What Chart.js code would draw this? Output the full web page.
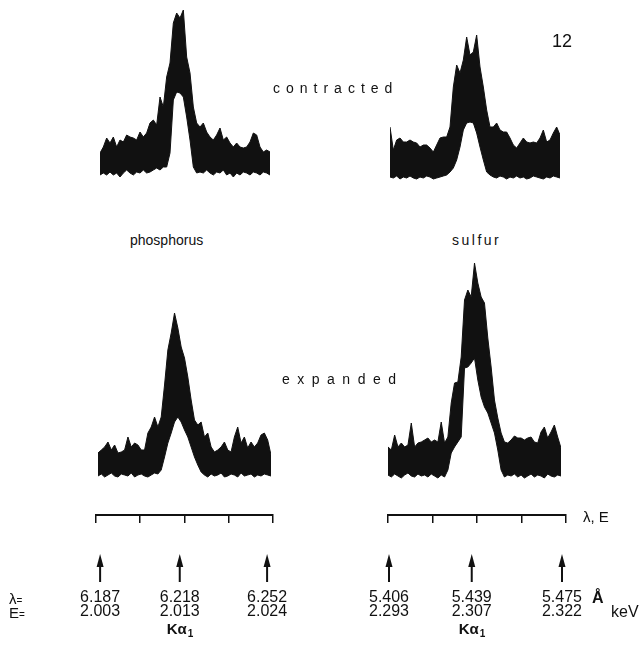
<!DOCTYPE html>
<html>
<head>
<meta charset="utf-8">
<script src="https://cdn.jsdelivr.net/npm/chart.js@4.4.0/dist/chart.umd.min.js"></script>
<style>
  body { margin: 0; background: #fff; }
  #fig { position: relative; width: 643px; height: 651px; overflow: hidden; font-family: "Liberation Sans", Arial, sans-serif; color: #111; }
  #fig canvas { position: absolute; }
  .lbl { position: absolute; white-space: nowrap; line-height: 1; }
</style>
</head>
<body>
<div id="fig">
  <canvas id="pCon" width="170" height="180" style="left:100px;top:0px"></canvas>
  <canvas id="sCon" width="170" height="160" style="left:390px;top:20px"></canvas>
  <canvas id="pExp" width="173" height="180" style="left:98px;top:300px"></canvas>
  <canvas id="sExp" width="173" height="230" style="left:388px;top:250px"></canvas>
  <canvas id="pAxis" width="320" height="171" style="left:0px;top:480px"></canvas>
  <canvas id="sAxis" width="323" height="171" style="left:320px;top:480px"></canvas>

  <div class="lbl" style="left:552px;top:32px;font-size:18px">12</div>
  <div class="lbl" style="left:273px;top:81px;font-size:14px;letter-spacing:6px">contracted</div>
  <div class="lbl" style="left:130px;top:233px;font-size:14px">phosphorus</div>
  <div class="lbl" style="left:452px;top:233px;font-size:14px;letter-spacing:2.5px">sulfur</div>
  <div class="lbl" style="left:282px;top:372px;font-size:14px;letter-spacing:7.5px">expanded</div>
  <div class="lbl" style="left:583px;top:509px;font-size:15px">λ, E</div>
  <div class="lbl" style="left:9px;top:591px;font-size:15px">λ<span style="font-size:10px">=</span></div>
  <div class="lbl" style="left:9px;top:605px;font-size:15px">E<span style="font-size:10px">=</span></div>
  <div class="lbl" style="left:592px;top:590px;font-size:16px;font-weight:bold">Å</div>
  <div class="lbl" style="left:611px;top:604px;font-size:16px">keV</div>
</div>

<script>
// spectra: upper and lower edge of the recorded trace, counts per channel
const pConUpper = [27,33,42,37,43,33,40,38,45,43,42,40,48,43,47,57,60,55,83,73,103,117,157,167,162,170,123,107,73,57,53,57,48,43,40,45,52,40,43,37,33,37,33,32,33,38,47,45,33,28,30,28];
const pConLower = [5,7,5,8,5,7,3,7,10,7,5,8,7,10,7,8,10,12,10,13,13,27,80,88,87,83,63,40,13,7,8,7,10,7,5,8,7,10,5,7,3,7,5,8,7,5,8,7,5,8,7,5];

const sConUpper = [53,30,40,42,38,38,40,38,37,33,35,35,32,28,35,42,43,43,53,93,115,107,120,143,125,128,145,113,93,70,53,53,57,50,48,48,42,35,32,37,42,38,37,38,37,42,50,38,40,47,53,45];
const sConLower = [3,2,4,1,3,2,4,2,1,3,2,4,3,1,2,3,4,5,8,12,20,33,50,57,58,57,47,33,20,8,5,3,2,4,3,1,3,2,4,2,3,1,2,4,3,2,1,3,2,4,3,2];

const pExpUpper = [27,30,33,38,30,35,27,28,30,43,33,37,35,30,30,47,53,63,53,63,95,130,147,167,152,133,122,103,80,60,55,58,43,47,33,28,30,33,38,30,28,43,53,37,43,32,38,33,37,45,47,40,25];
const pExpLower = [4,6,3,5,7,4,3,6,5,4,7,3,5,6,4,3,5,7,6,10,23,37,47,58,63,58,50,43,33,23,15,8,5,3,6,4,5,7,3,4,6,5,3,7,4,5,6,3,5,4,6,5,4];

const sExpUpper = [33,30,45,33,37,33,35,57,33,37,38,40,42,38,40,38,58,37,43,77,97,98,123,180,190,183,217,197,183,177,142,113,80,62,47,38,37,40,44,42,42,40,42,43,38,37,48,53,42,48,55,43,32];
const sExpLower = [5,3,6,4,2,5,7,4,3,6,4,5,3,6,4,2,5,3,10,27,33,38,43,112,113,117,122,100,83,73,67,57,47,30,10,3,5,4,6,3,5,2,4,6,3,5,4,2,6,4,3,5,4];

// scale bars (Å) and marked lines
const pBarTicks = [6.1854, 6.2026, 6.2198, 6.2371, 6.2543];
const pWave = [6.187, 6.218, 6.252];
const pWaveText = ['6.187', '6.218', '6.252'];
const pEnergyText = ['2.003', '2.013', '2.024'];

const sBarTicks = [5.4056, 5.4233, 5.4411, 5.4588, 5.4766];
const sWave = [5.406, 5.439, 5.475];
const sWaveText = ['5.406', '5.439', '5.475'];
const sEnergyText = ['2.293', '2.307', '2.322'];

const INK = '#111';

function spectrumChart(id, lower, upper, yMax) {
  new Chart(document.getElementById(id), {
    type: 'line',
    data: {
      labels: upper.map((v, i) => i),
      datasets: [
        { data: lower, borderColor: INK, borderWidth: 1, pointRadius: 0, fill: false },
        { data: upper, borderColor: INK, borderWidth: 1, pointRadius: 0, fill: '-1', backgroundColor: INK }
      ]
    },
    options: {
      responsive: false,
      animation: false,
      layout: { padding: 0 },
      plugins: { legend: { display: false }, tooltip: { enabled: false } },
      scales: {
        x: { display: false },
        y: { display: false, min: 0, max: yMax }
      }
    }
  });
}

function bracketChart(id, barTicks, waves, waveText, energyText, padL, padR) {
  const marks = {
    id: 'marks',
    afterDraw(chart) {
      const ctx = chart.ctx;
      const sx = chart.scales.x;
      ctx.save();
      ctx.fillStyle = INK;
      ctx.strokeStyle = INK;
      waves.forEach((v, i) => {
        const x = sx.getPixelForValue(v);
        // arrow
        ctx.lineWidth = 2;
        ctx.beginPath();
        ctx.moveTo(x, 102);
        ctx.lineTo(x, 84);
        ctx.stroke();
        ctx.beginPath();
        ctx.moveTo(x, 74);
        ctx.lineTo(x - 3.5, 87);
        ctx.lineTo(x + 3.5, 87);
        ctx.closePath();
        ctx.fill();
        // values
        ctx.font = '16px "Liberation Sans", Arial, sans-serif';
        ctx.textAlign = 'center';
        ctx.textBaseline = 'middle';
        ctx.fillText(waveText[i], x, 118);
        ctx.fillText(energyText[i], x, 132);
      });
      // K alpha 1 under the middle line
      const xm = sx.getPixelForValue(waves[1]);
      ctx.font = 'bold 15px "Liberation Sans", Arial, sans-serif';
      const w1 = ctx.measureText('Kα').width;
      ctx.textAlign = 'left';
      ctx.fillText('Kα', xm - (w1 + 6) / 2, 150);
      ctx.font = 'bold 10px "Liberation Sans", Arial, sans-serif';
      ctx.fillText('1', xm - (w1 + 6) / 2 + w1 + 1, 154);
      ctx.restore();
    }
  };

  new Chart(document.getElementById(id), {
    type: 'scatter',
    data: { datasets: [{ data: [] }] },
    options: {
      responsive: false,
      animation: false,
      layout: { padding: { left: padL, right: padR, top: 0, bottom: 0 } },
      plugins: { legend: { display: false }, tooltip: { enabled: false } },
      scales: {
        x: {
          type: 'linear',
          position: 'bottom',
          min: barTicks[0],
          max: barTicks[barTicks.length - 1],
          afterBuildTicks: (s) => { s.ticks = barTicks.map(v => ({ value: v })); },
          afterFit: (s) => { s.height = 136; },
          grid: { drawOnChartArea: false, drawTicks: true, tickLength: 8, color: INK, lineWidth: 1.5 },
          border: { display: true, color: INK, width: 2 },
          ticks: { display: false }
        },
        y: { display: false, min: 0, max: 1 }
      }
    },
    plugins: [marks]
  });
}

spectrumChart('pCon', pConLower, pConUpper, 180);
spectrumChart('sCon', sConLower, sConUpper, 160);
spectrumChart('pExp', pExpLower, pExpUpper, 180);
spectrumChart('sExp', sExpLower, sExpUpper, 230);

bracketChart('pAxis', pBarTicks, pWave, pWaveText, pEnergyText, 96, 47);
bracketChart('sAxis', sBarTicks, sWave, sWaveText, sEnergyText, 68, 77);
</script>
</body>
</html>
